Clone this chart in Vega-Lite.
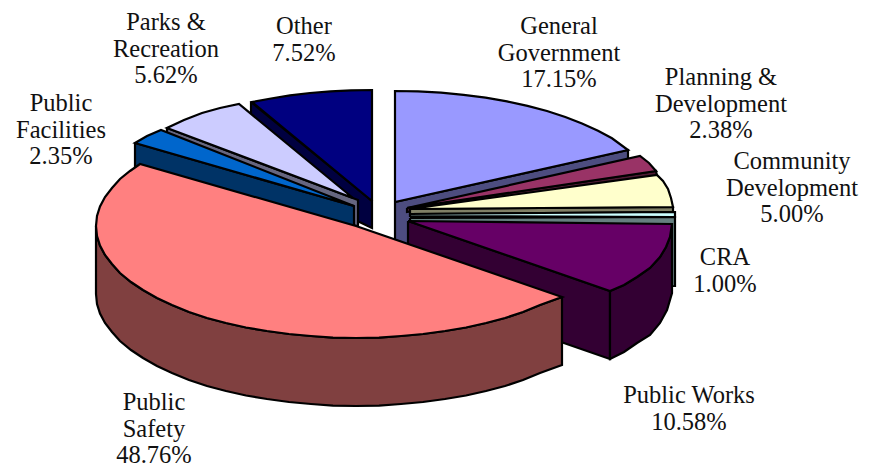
{"$schema":"https://vega.github.io/schema/vega-lite/v6.json","width":876,"height":468,"padding":0,"autosize":{"type":"none"},"background":"white","view":{"stroke":null},
"datasets":{"faces":[
{"p":"other-side","i":0,"x":251,"y":102},{"p":"other-side","i":1,"x":372,"y":201},{"p":"other-side","i":2,"x":372,"y":228},{"p":"other-side","i":3,"x":251,"y":170},{"p":"other-side","i":4,"x":251,"y":102},
{"p":"other-top","i":0,"x":372,"y":201},{"p":"other-top","i":1,"x":252,"y":102},{"p":"other-top","i":2,"x":271,"y":98.5},{"p":"other-top","i":3,"x":290,"y":95.4},{"p":"other-top","i":4,"x":310,"y":93},{"p":"other-top","i":5,"x":330.5,"y":91.4},{"p":"other-top","i":6,"x":351,"y":90.3},{"p":"other-top","i":7,"x":372,"y":90},{"p":"other-top","i":8,"x":372,"y":201},
{"p":"parks-side","i":0,"x":167,"y":128},{"p":"parks-side","i":1,"x":358,"y":200},{"p":"parks-side","i":2,"x":358,"y":226},{"p":"parks-side","i":3,"x":167,"y":196},{"p":"parks-side","i":4,"x":167,"y":128},
{"p":"parks-top","i":0,"x":353,"y":198},{"p":"parks-top","i":1,"x":167,"y":128},{"p":"parks-top","i":2,"x":184,"y":120},{"p":"parks-top","i":3,"x":202,"y":113},{"p":"parks-top","i":4,"x":220,"y":108},{"p":"parks-top","i":5,"x":239,"y":104},{"p":"parks-top","i":6,"x":353,"y":198},
{"p":"facilities-side","i":0,"x":135,"y":143},{"p":"facilities-side","i":1,"x":354,"y":206},{"p":"facilities-side","i":2,"x":354,"y":274},{"p":"facilities-side","i":3,"x":135,"y":211},{"p":"facilities-side","i":4,"x":135,"y":143},
{"p":"facilities-top","i":0,"x":354,"y":206},{"p":"facilities-top","i":1,"x":135,"y":143},{"p":"facilities-top","i":2,"x":147,"y":136},{"p":"facilities-top","i":3,"x":161,"y":130},{"p":"facilities-top","i":4,"x":354,"y":206},
{"p":"general-side","i":0,"x":395,"y":202},{"p":"general-side","i":1,"x":628,"y":150},{"p":"general-side","i":2,"x":628,"y":218},{"p":"general-side","i":3,"x":395,"y":270},{"p":"general-side","i":4,"x":395,"y":202},
{"p":"general-top","i":0,"x":395,"y":202},{"p":"general-top","i":1,"x":395,"y":91},{"p":"general-top","i":2,"x":418,"y":91.4},{"p":"general-top","i":3,"x":441,"y":92.7},{"p":"general-top","i":4,"x":463.6,"y":94.8},{"p":"general-top","i":5,"x":485.6,"y":97.7},{"p":"general-top","i":6,"x":507,"y":101.4},{"p":"general-top","i":7,"x":527.5,"y":105.9},{"p":"general-top","i":8,"x":547,"y":111},{"p":"general-top","i":9,"x":565.3,"y":117},{"p":"general-top","i":10,"x":582,"y":123.5},{"p":"general-top","i":11,"x":598,"y":130.7},{"p":"general-top","i":12,"x":612,"y":138.3},{"p":"general-top","i":13,"x":628,"y":150},{"p":"general-top","i":14,"x":395,"y":202},
{"p":"planning-side","i":0,"x":407,"y":208},{"p":"planning-side","i":1,"x":656,"y":171},{"p":"planning-side","i":2,"x":657,"y":176},{"p":"planning-side","i":3,"x":407,"y":212},{"p":"planning-side","i":4,"x":407,"y":208},
{"p":"planning-top","i":0,"x":407,"y":208},{"p":"planning-top","i":1,"x":640,"y":156},{"p":"planning-top","i":2,"x":649,"y":163},{"p":"planning-top","i":3,"x":656,"y":171},{"p":"planning-top","i":4,"x":407,"y":208},
{"p":"community-side","i":0,"x":410,"y":209},{"p":"community-side","i":1,"x":673,"y":207},{"p":"community-side","i":2,"x":673,"y":212},{"p":"community-side","i":3,"x":410,"y":214},{"p":"community-side","i":4,"x":410,"y":209},
{"p":"community-top","i":0,"x":410,"y":209},{"p":"community-top","i":1,"x":657,"y":175},{"p":"community-top","i":2,"x":663,"y":181},{"p":"community-top","i":3,"x":668,"y":189},{"p":"community-top","i":4,"x":671,"y":198},{"p":"community-top","i":5,"x":673,"y":207},{"p":"community-top","i":6,"x":410,"y":209},
{"p":"cra-side","i":0,"x":410,"y":218},{"p":"cra-side","i":1,"x":675,"y":217},{"p":"cra-side","i":2,"x":675,"y":286},{"p":"cra-side","i":3,"x":410,"y":287},{"p":"cra-side","i":4,"x":410,"y":218},
{"p":"cra-top","i":0,"x":410,"y":214},{"p":"cra-top","i":1,"x":675,"y":212},{"p":"cra-top","i":2,"x":675,"y":217},{"p":"cra-top","i":3,"x":410,"y":216},{"p":"cra-top","i":4,"x":410,"y":214},
{"p":"works-cut","i":0,"x":408,"y":221},{"p":"works-cut","i":1,"x":610,"y":291},{"p":"works-cut","i":2,"x":610,"y":359},{"p":"works-cut","i":3,"x":408,"y":289},{"p":"works-cut","i":4,"x":408,"y":221},
{"p":"works-side","i":0,"x":610,"y":291},{"p":"works-side","i":1,"x":624,"y":285},{"p":"works-side","i":2,"x":637,"y":277},{"p":"works-side","i":3,"x":650,"y":268},{"p":"works-side","i":4,"x":660,"y":257},{"p":"works-side","i":5,"x":666,"y":247},{"p":"works-side","i":6,"x":670,"y":237},{"p":"works-side","i":7,"x":672,"y":224},{"p":"works-side","i":8,"x":672,"y":293},{"p":"works-side","i":9,"x":667,"y":310},{"p":"works-side","i":10,"x":660,"y":323},{"p":"works-side","i":11,"x":650,"y":335},{"p":"works-side","i":12,"x":637,"y":343},{"p":"works-side","i":13,"x":624,"y":352},{"p":"works-side","i":14,"x":610,"y":359},{"p":"works-side","i":15,"x":610,"y":291},
{"p":"works-top","i":0,"x":408,"y":221},{"p":"works-top","i":1,"x":672,"y":224},{"p":"works-top","i":2,"x":670,"y":237},{"p":"works-top","i":3,"x":666,"y":247},{"p":"works-top","i":4,"x":660,"y":257},{"p":"works-top","i":5,"x":650,"y":268},{"p":"works-top","i":6,"x":637,"y":277},{"p":"works-top","i":7,"x":624,"y":285},{"p":"works-top","i":8,"x":610,"y":291},{"p":"works-top","i":9,"x":408,"y":221},
{"p":"safety-side","i":0,"x":562,"y":297},{"p":"safety-side","i":1,"x":540,"y":305},{"p":"safety-side","i":2,"x":523,"y":312},{"p":"safety-side","i":3,"x":505,"y":318},{"p":"safety-side","i":4,"x":486,"y":323},{"p":"safety-side","i":5,"x":466,"y":327.5},{"p":"safety-side","i":6,"x":445,"y":331},{"p":"safety-side","i":7,"x":423,"y":334},{"p":"safety-side","i":8,"x":401,"y":336},{"p":"safety-side","i":9,"x":379,"y":337.6},{"p":"safety-side","i":10,"x":356,"y":338},{"p":"safety-side","i":11,"x":333,"y":337.6},{"p":"safety-side","i":12,"x":311,"y":336},{"p":"safety-side","i":13,"x":289,"y":334},{"p":"safety-side","i":14,"x":267,"y":331},{"p":"safety-side","i":15,"x":246,"y":327.5},{"p":"safety-side","i":16,"x":226,"y":323},{"p":"safety-side","i":17,"x":207,"y":318},{"p":"safety-side","i":18,"x":189,"y":312},{"p":"safety-side","i":19,"x":172,"y":305},{"p":"safety-side","i":20,"x":157,"y":298},{"p":"safety-side","i":21,"x":143,"y":290},{"p":"safety-side","i":22,"x":131,"y":282},{"p":"safety-side","i":23,"x":120,"y":273},{"p":"safety-side","i":24,"x":112,"y":264},{"p":"safety-side","i":25,"x":105,"y":255},{"p":"safety-side","i":26,"x":100,"y":245.5},{"p":"safety-side","i":27,"x":97,"y":236},{"p":"safety-side","i":28,"x":96,"y":226},
{"p":"safety-side","i":29,"x":96,"y":294},{"p":"safety-side","i":30,"x":97,"y":304},{"p":"safety-side","i":31,"x":100,"y":313.5},{"p":"safety-side","i":32,"x":105,"y":323},{"p":"safety-side","i":33,"x":112,"y":332},{"p":"safety-side","i":34,"x":120,"y":341},{"p":"safety-side","i":35,"x":131,"y":350},{"p":"safety-side","i":36,"x":143,"y":358},{"p":"safety-side","i":37,"x":157,"y":366},{"p":"safety-side","i":38,"x":172,"y":373},{"p":"safety-side","i":39,"x":189,"y":380},{"p":"safety-side","i":40,"x":207,"y":386},{"p":"safety-side","i":41,"x":226,"y":391},{"p":"safety-side","i":42,"x":246,"y":395.5},{"p":"safety-side","i":43,"x":267,"y":399},{"p":"safety-side","i":44,"x":289,"y":402},{"p":"safety-side","i":45,"x":311,"y":404},{"p":"safety-side","i":46,"x":333,"y":405.6},{"p":"safety-side","i":47,"x":356,"y":406},{"p":"safety-side","i":48,"x":379,"y":405.6},{"p":"safety-side","i":49,"x":401,"y":404},{"p":"safety-side","i":50,"x":423,"y":402},{"p":"safety-side","i":51,"x":445,"y":399},{"p":"safety-side","i":52,"x":466,"y":395.5},{"p":"safety-side","i":53,"x":486,"y":391},{"p":"safety-side","i":54,"x":505,"y":386},{"p":"safety-side","i":55,"x":523,"y":380},{"p":"safety-side","i":56,"x":540,"y":373},{"p":"safety-side","i":57,"x":562,"y":365},{"p":"safety-side","i":58,"x":562,"y":297},
{"p":"safety-top","i":0,"x":356,"y":226},{"p":"safety-top","i":1,"x":562,"y":297},{"p":"safety-top","i":2,"x":540,"y":305},{"p":"safety-top","i":3,"x":523,"y":312},{"p":"safety-top","i":4,"x":505,"y":318},{"p":"safety-top","i":5,"x":486,"y":323},{"p":"safety-top","i":6,"x":466,"y":327.5},{"p":"safety-top","i":7,"x":445,"y":331},{"p":"safety-top","i":8,"x":423,"y":334},{"p":"safety-top","i":9,"x":401,"y":336},{"p":"safety-top","i":10,"x":379,"y":337.6},{"p":"safety-top","i":11,"x":356,"y":338},{"p":"safety-top","i":12,"x":333,"y":337.6},{"p":"safety-top","i":13,"x":311,"y":336},{"p":"safety-top","i":14,"x":289,"y":334},{"p":"safety-top","i":15,"x":267,"y":331},{"p":"safety-top","i":16,"x":246,"y":327.5},{"p":"safety-top","i":17,"x":226,"y":323},{"p":"safety-top","i":18,"x":207,"y":318},{"p":"safety-top","i":19,"x":189,"y":312},{"p":"safety-top","i":20,"x":172,"y":305},{"p":"safety-top","i":21,"x":157,"y":298},{"p":"safety-top","i":22,"x":143,"y":290},{"p":"safety-top","i":23,"x":131,"y":282},{"p":"safety-top","i":24,"x":120,"y":273},{"p":"safety-top","i":25,"x":112,"y":264},{"p":"safety-top","i":26,"x":105,"y":255},{"p":"safety-top","i":27,"x":100,"y":245.5},{"p":"safety-top","i":28,"x":97,"y":236},{"p":"safety-top","i":29,"x":96,"y":226},{"p":"safety-top","i":30,"x":97,"y":216},{"p":"safety-top","i":31,"x":100,"y":206.5},{"p":"safety-top","i":32,"x":105,"y":197},{"p":"safety-top","i":33,"x":112,"y":188},{"p":"safety-top","i":34,"x":120,"y":179},{"p":"safety-top","i":35,"x":130,"y":171},{"p":"safety-top","i":36,"x":140,"y":164},{"p":"safety-top","i":37,"x":356,"y":226}
],"labels":[
{"label":"General\nGovernment\n17.15%","x":559,"y":27},
{"label":"Planning &\nDevelopment\n2.38%","x":721,"y":78},
{"label":"Community\nDevelopment\n5.00%","x":792,"y":162},
{"label":"CRA\n1.00%","x":725,"y":258},
{"label":"Public Works\n10.58%","x":689,"y":396},
{"label":"Public\nSafety\n48.76%","x":154,"y":403},
{"label":"Public\nFacilities\n2.35%","x":61,"y":104},
{"label":"Parks &\nRecreation\n5.62%","x":166,"y":23},
{"label":"Other\n7.52%","x":304,"y":27}
]},
"layer":[
{"data":{"name":"faces"},"mark":{"type":"line","filled":true,"stroke":"black","strokeWidth":2.2,"strokeJoin":"miter","strokeMiterLimit":6,"clip":false},
"encoding":{"x":{"field":"x","type":"quantitative","scale":{"domain":[0,876],"nice":false,"zero":false},"axis":null},
"y":{"field":"y","type":"quantitative","scale":{"domain":[468,0],"nice":false,"zero":false},"axis":null},
"order":{"field":"i","type":"ordinal"},
"detail":{"field":"p"},
"fill":{"field":"p","type":"nominal","legend":null,"sort":null,"scale":{
"domain":["other-side","other-top","parks-side","parks-top","facilities-side","facilities-top","general-side","general-top","planning-side","planning-top","community-side","community-top","cra-side","cra-top","works-cut","works-side","works-top","safety-side","safety-top"],
"range":["#000040","#000080","#666680","#ccccff","#003366","#0066cc","#4d4d80","#9999ff","#4d1a33","#993366","#808066","#ffffcc","#668080","#ccffff","#330033","#330033","#660066","#804040","#ff8080"]}}}},
{"data":{"name":"labels"},"mark":{"type":"text","font":"Liberation Serif","fontSize":24.5,"lineHeight":26.7,"lineBreak":"\n","align":"center","baseline":"middle","color":"#111111"},
"encoding":{"x":{"field":"x","type":"quantitative","scale":{"domain":[0,876],"nice":false,"zero":false},"axis":null},
"y":{"field":"y","type":"quantitative","scale":{"domain":[468,0],"nice":false,"zero":false},"axis":null},
"text":{"field":"label"}}}
]}
